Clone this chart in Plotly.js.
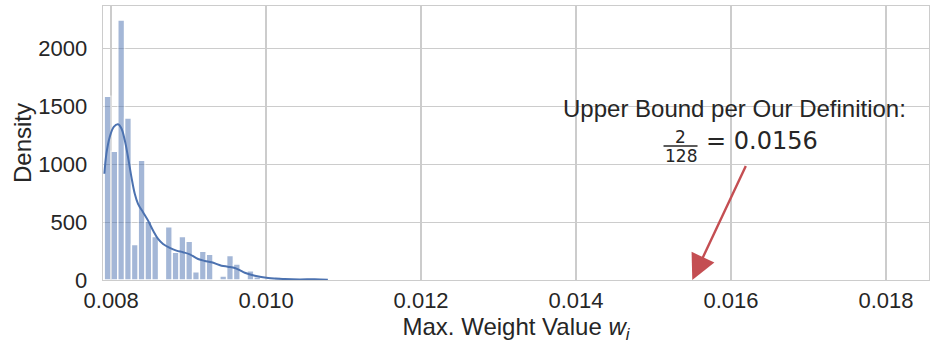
<!DOCTYPE html>
<html>
<head>
<meta charset="utf-8">
<script src="https://cdn.plot.ly/plotly-3.0.1.min.js"></script>
<style>
  html, body { margin: 0; padding: 0; background: #ffffff; }
  #chart { width: 935px; height: 350px; }
</style>
</head>
<body>
<div id="chart"></div>
<script>
// Histogram of per-layer maximum weight values (density-normalised)
const binStart = 0.00791;
const binWidth = 0.0000878;
const binDensity = [
  1590, 1113, 2249, 1402, 306, 1035, 508, 376, 0, 460,
  240, 376, 335, 72, 248, 222, 0, 35, 211, 139,
  0, 81, 29, 12, 0, 26, 0, 0, 0, 0,
  0, 0, 12
];

// Kernel density estimate of the same sample
const kdeX = [
  0.007913, 0.007939, 0.007982, 0.008034, 0.008089, 0.008133, 0.008176,
  0.008218, 0.008262, 0.008305, 0.008347, 0.008412, 0.008476, 0.008541,
  0.008606, 0.008670, 0.008757, 0.008843, 0.008928, 0.009015, 0.009122,
  0.009209, 0.009295, 0.009424, 0.009506, 0.009596, 0.009660, 0.009725,
  0.009854, 0.010026, 0.010241, 0.010435, 0.010628, 0.010797
];
const kdeY = [
  919, 1093, 1237, 1324, 1347, 1310, 1208,
  1063, 890, 746, 659, 586, 514, 428,
  356, 312, 278, 254, 240, 222, 182,
  165, 153, 124, 115, 104, 85, 63,
  37, 17, 8, 5, 7, 3
];

// Theoretical upper bound marker
const boundPoint = [0.0155, 0];
const boundLabelAnchor = [0.0162, 1000];
const boundTitle = "Upper Bound per Our Definition:";
const boundNumerator = "2";
const boundDenominator = "128";
const boundValue = "= 0.0156";

const xTicks = [0.008, 0.010, 0.012, 0.014, 0.016, 0.018];
const yTicks = [0, 500, 1000, 1500, 2000];

const binCenters = binDensity.map((_, i) => binStart + (i + 0.5) * binWidth);

const blue = "#4c72b0";
const red = "#c44e52";
const ink = "#262626";
const grid = "#cccccc";
const sans = "Liberation Sans, Arial, Helvetica, sans-serif";
const mathFont = "DejaVu Sans, sans-serif";

const traces = [
  {
    type: "bar",
    x: binCenters,
    y: binDensity,
    width: binWidth,
    marker: { color: blue, opacity: 0.5, line: { color: "#ffffff", width: 1.5 } },
    hoverinfo: "skip",
    showlegend: false
  },
  {
    type: "scatter",
    mode: "lines",
    x: kdeX,
    y: kdeY,
    line: { color: blue, width: 2, shape: "spline", smoothing: 1 },
    hoverinfo: "skip",
    showlegend: false
  }
];

const ax = boundLabelAnchor[0], ay = boundLabelAnchor[1];
const annotations = [
  {
    x: boundPoint[0], y: boundPoint[1], xref: "x", yref: "y",
    ax: ax, ay: ay, axref: "x", ayref: "y",
    text: "", showarrow: true,
    arrowcolor: red, arrowwidth: 2.4, arrowhead: 2, arrowsize: 2.1,
    standoff: 0, startstandoff: 0
  },
  {
    x: ax, y: ay, xref: "x", yref: "y", xshift: -12, yshift: 56,
    text: boundTitle, showarrow: false,
    font: { family: sans, size: 24, color: ink },
    xanchor: "center", yanchor: "middle"
  },
  {
    x: ax, y: ay, xref: "x", yref: "y", xshift: -66, yshift: 27,
    text: boundNumerator, showarrow: false,
    font: { family: mathFont, size: 17, color: ink },
    xanchor: "center", yanchor: "middle"
  },
  {
    x: ax, y: ay, xref: "x", yref: "y", xshift: -66, yshift: 8,
    text: boundDenominator, showarrow: false,
    font: { family: mathFont, size: 17, color: ink },
    xanchor: "center", yanchor: "middle"
  },
  {
    x: ax, y: ay, xref: "x", yref: "y", xshift: 15, yshift: 23,
    text: boundValue, showarrow: false,
    font: { family: mathFont, size: 24, color: ink },
    xanchor: "center", yanchor: "middle"
  }
];

// Fraction bar, placed in pixels relative to the label anchor
const shapes = [
  {
    type: "line", xref: "x", yref: "y",
    xsizemode: "pixel", ysizemode: "pixel",
    xanchor: ax, yanchor: ay,
    x0: -83, x1: -49, y0: 18.5, y1: 18.5,
    line: { color: ink, width: 1.5 }
  }
];

const layout = {
  width: 935,
  height: 350,
  margin: { l: 103, r: 6, t: 6, b: 70 },
  paper_bgcolor: "#ffffff",
  plot_bgcolor: "#ffffff",
  font: { family: sans, color: ink, size: 22 },
  bargap: 0,
  xaxis: {
    range: [0.007895, 0.018555],
    tickvals: xTicks,
    ticktext: xTicks.map(v => v.toFixed(3)),
    showgrid: true, gridcolor: grid, gridwidth: 1.3,
    zeroline: false,
    showline: true, linecolor: grid, linewidth: 1.3, mirror: true,
    ticks: "", ticklabelstandoff: 0,
    tickfont: { family: sans, size: 22, color: ink },
    title: { text: "Max. Weight Value <i>w</i><sub><i>i</i></sub>", font: { family: sans, size: 24, color: ink }, standoff: 0 },
    automargin: false
  },
  yaxis: {
    range: [0, 2370],
    tickvals: yTicks,
    showgrid: true, gridcolor: grid, gridwidth: 1.3,
    zeroline: false,
    showline: true, linecolor: grid, linewidth: 1.3, mirror: true,
    ticks: "", ticklabelstandoff: 10,
    tickfont: { family: sans, size: 22, color: ink },
    title: { text: "Density", font: { family: sans, size: 24, color: ink }, standoff: 0 },
    automargin: false
  },
  annotations: annotations,
  shapes: shapes
};

Plotly.newPlot("chart", traces, layout, { displayModeBar: false, staticPlot: true });
</script>
</body>
</html>
